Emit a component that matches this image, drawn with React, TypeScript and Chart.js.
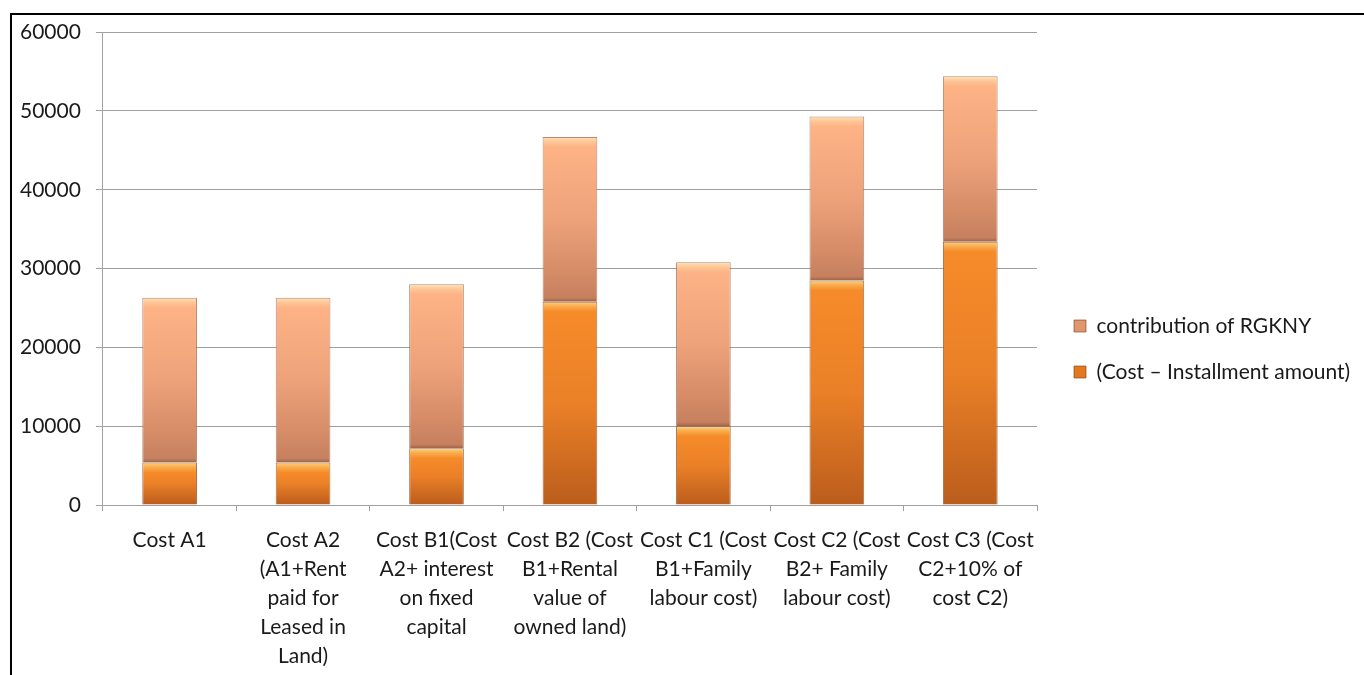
import React, { useEffect, useRef } from "react";
import { Chart, registerables } from "chart.js";

Chart.register(...registerables);

const categories: string[][] = [
  ["Cost A1"],
  ["Cost A2", "(A1+Rent", "paid for", "Leased in", "Land)"],
  ["Cost B1(Cost", "A2+ interest", "on fixed", "capital"],
  ["Cost B2 (Cost", "B1+Rental", "value of", "owned land)"],
  ["Cost C1 (Cost", "B1+Family", "labour cost)"],
  ["Cost C2 (Cost", "B2+ Family", "labour cost)"],
  ["Cost C3 (Cost", "C2+10% of", "cost C2)"],
];

const costMinusInstallment: number[] = [5400, 5400, 7200, 25800, 10000, 28500, 33400];
const contributionRGKNY: number[] = [20900, 20900, 20800, 20900, 20800, 20800, 21000];

const seriesNames: string[] = ["(Cost – Installment amount)", "contribution of RGKNY"];

const yTicks = { min: 0, max: 60000, step: 10000 };

const FONT = "Lato";

type Stops = [number, string][];

const bottomStops: Stops = [
  [0, "#FCD27E"],
  [5, "#F9A94A"],
  [10, "#F68B2A"],
];
const bottomEnd: Stops = [
  [-1, "#BB5D1C"],
  [0, "#9C4A14"],
];
const topStops: Stops = [
  [0, "#FFE2B2"],
  [5, "#FEC597"],
  [10, "#FDB385"],
];
const topEnd: Stops = [
  [-30, "#D58C67"],
  [-4, "#C6805F"],
  [0, "#9E6349"],
];

function makeGradient(ctx: CanvasRenderingContext2D, y0: number, y1: number, head: Stops, mid: string, tail: Stops) {
  const h = Math.max(1, y1 - y0);
  const g = ctx.createLinearGradient(0, y0, 0, y1);
  const clamp = (v: number) => Math.min(1, Math.max(0, v));
  head.forEach(([px, c]) => g.addColorStop(clamp(px / h), c));
  g.addColorStop(0.5, mid);
  tail.forEach(([px, c]) => g.addColorStop(clamp(1 + px / h), c));
  return g;
}

const legendShift = {
  id: "legendShift",
  afterInit(chart: any) {
    const lg = chart.legend;
    if (!lg) return;
    const fit = lg.fit.bind(lg);
    lg.fit = () => {
      fit();
      lg.width = 327;
    };
  },
  afterLayout(chart: any) {
    const lg = chart.legend;
    if (!lg) return;
    lg.left += 12;
    lg.right += 12;
    lg.top -= 10;
    lg.bottom -= 10;
  },
};

const legendColors: string[] = ["#E2781F", "#E0966E"];

export default function App() {
  const canvasRef = useRef<HTMLCanvasElement | null>(null);

  useEffect(() => {
    const canvas = canvasRef.current;
    if (!canvas) return;

    const gradFor = (dsIndex: number) => (c: any) => {
      const chart = c.chart;
      const fallback = legendColors[dsIndex];
      if (!chart.chartArea || c.type !== "data" || c.dataIndex === undefined) return fallback;
      const y = chart.scales.y;
      const i = c.dataIndex;
      const base = dsIndex === 0 ? 0 : costMinusInstallment[i];
      const val = dsIndex === 0 ? costMinusInstallment[i] : costMinusInstallment[i] + contributionRGKNY[i];
      const y0 = y.getPixelForValue(val);
      const y1 = y.getPixelForValue(base);
      if (dsIndex === 0) return makeGradient(chart.ctx, y0, y1, bottomStops, "#EA8027", bottomEnd);
      return makeGradient(chart.ctx, y0, y1, topStops, "#EDA27A", topEnd);
    };

    const defaultGen = (Chart.defaults.plugins.legend.labels as any).generateLabels;

    const chart = new Chart(canvas, {
      type: "bar",
      data: {
        labels: categories,
        datasets: [
          {
            label: seriesNames[0],
            data: costMinusInstallment,
            backgroundColor: gradFor(0),
            borderColor: "rgba(130,65,20,0.75)",
            borderWidth: 1,
            barPercentage: 0.41,
            categoryPercentage: 1,
          },
          {
            label: seriesNames[1],
            data: contributionRGKNY,
            backgroundColor: gradFor(1),
            borderColor: "rgba(150,90,60,0.7)",
            borderWidth: 1,
            barPercentage: 0.41,
            categoryPercentage: 1,
          },
        ],
      },
      options: {
        animation: false,
        responsive: false,
        maintainAspectRatio: false,
        layout: { padding: { left: -7, top: 17, bottom: -11, right: 0 } },
        plugins: {
          tooltip: { enabled: false },
          legend: {
            position: "right",
            reverse: true,
            labels: {
              boxWidth: 12,
              boxHeight: 12,
              padding: 25,
              color: "#1a1a1a",
              font: { family: FONT, size: 21 },
              generateLabels: (ch: any) =>
                defaultGen(ch).map((item: any) => ({
                  ...item,
                  fillStyle: legendColors[item.datasetIndex],
                  strokeStyle: "rgba(120,60,25,0.6)",
                  lineWidth: 1,
                })),
            },
          },
        },
        scales: {
          x: {
            stacked: true,
            offset: true,
            grid: {
              offset: true,
              drawOnChartArea: false,
              drawTicks: true,
              tickLength: 6,
              color: "#A0A0A0",
            },
            border: { display: true, color: "#A0A0A0", width: 1 },
            ticks: {
              autoSkip: false,
              maxRotation: 0,
              minRotation: 0,
              padding: 15,
              color: "#1a1a1a",
              font: { family: FONT, size: 21, lineHeight: 1.38 },
            },
          },
          y: {
            stacked: true,
            min: yTicks.min,
            max: yTicks.max,
            grid: { color: "#A0A0A0", tickLength: 7, drawTicks: true },
            border: { display: true, color: "#A0A0A0", width: 1 },
            ticks: {
              stepSize: yTicks.step,
              padding: 15,
              color: "#1a1a1a",
              font: { family: FONT, size: 21, lineHeight: 0.2 },
              callback: (v: any) => String(v),
            },
          },
        },
      },
      plugins: [legendShift],
    });

    return () => chart.destroy();
  }, []);

  return (
    <div
      style={{
        position: "fixed",
        left: 0,
        top: 0,
        width: 1364,
        height: 675,
        background: "#fff",
        overflow: "hidden",
      }}
    >
      <div
        style={{
          position: "absolute",
          left: 10,
          top: 13,
          width: 1400,
          height: 700,
          borderLeft: "2px solid #000",
          borderTop: "2px solid #000",
        }}
      >
        <canvas
          ref={canvasRef}
          width={1352}
          height={660}
          style={{ display: "block", width: 1352, height: 660 }}
        />
      </div>
    </div>
  );
}
